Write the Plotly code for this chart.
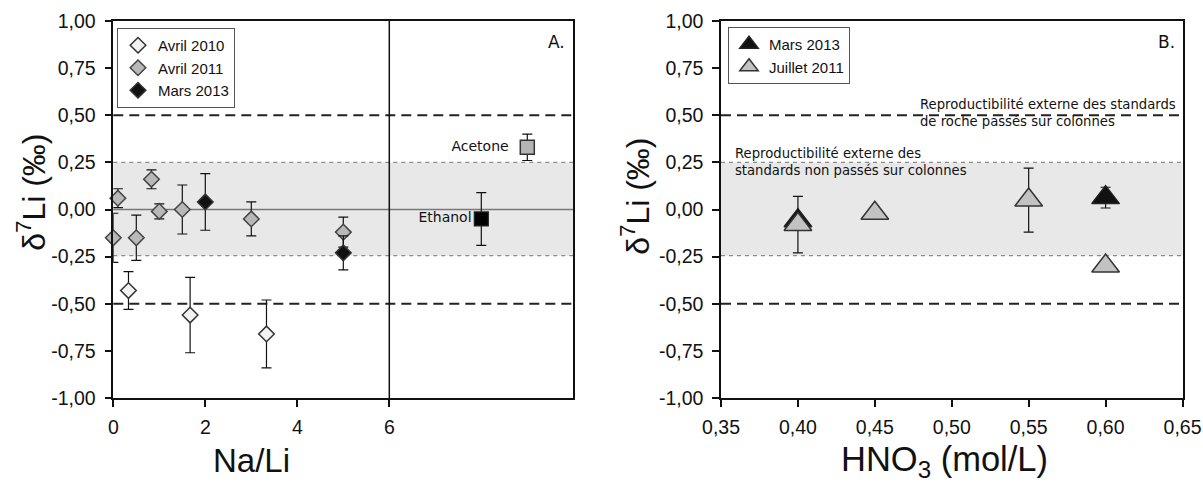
import plotly.graph_objects as go

# ---------------- Data: panel A (Na/Li) ----------------
avr2010_x = [0.33, 1.67, 3.33]
avr2010_y = [-0.43, -0.56, -0.66]
avr2010_e = [0.10, 0.20, 0.18]

avr2011_x = [0.0, 0.1, 0.5, 0.83, 1.0, 1.5, 3.0, 5.0]
avr2011_y = [-0.15, 0.06, -0.15, 0.16, -0.01, 0.0, -0.05, -0.12]
avr2011_e = [0.13, 0.05, 0.12, 0.05, 0.04, 0.13, 0.09, 0.08]

mars2013a_x = [2.0, 5.0]
mars2013a_y = [0.04, -0.23]
mars2013a_e = [0.15, 0.09]

ethanol_x, ethanol_y, ethanol_e = [8.0], [-0.05], [0.14]
acetone_x, acetone_y, acetone_e = [9.0], [0.33], [0.07]

# ---------------- Data: panel B (HNO3) ----------------
mars2013b_x = [0.40, 0.60]
mars2013b_y = [-0.06, 0.063]
mars2013b_e = [0.0, 0.055]

juil2011_x = [0.40, 0.45, 0.55, 0.60]
juil2011_y = [-0.08, -0.02, 0.05, -0.30]
juil2011_e = [0.15, 0.0, 0.17, 0.0]

y_ticks = [-1.0, -0.75, -0.5, -0.25, 0.0, 0.25, 0.5, 0.75, 1.0]
y_ticklabels = ["-1,00", "-0,75", "-0,50", "-0,25", "0,00", "0,25", "0,50", "0,75", "1,00"]
xa_ticks = [0, 2, 4, 6]
xa_ticklabels = ["0", "2", "4", "6"]
xb_ticks = [0.35, 0.40, 0.45, 0.50, 0.55, 0.60, 0.65]
xb_ticklabels = ["0,35", "0,40", "0,45", "0,50", "0,55", "0,60", "0,65"]

# page body margin is removed by post_script -> figure drawn at (0, 0)
W, H = 1203, 484
OFF = 0


def fx(px):
    return (px - OFF) / W


PLOT_TOP, PLOT_BOTTOM = 21, 398.3  # page pixels
PH = PLOT_BOTTOM - PLOT_TOP


def fy(py):
    return (PLOT_BOTTOM - py) / PH


TICKFONT = dict(family="Liberation Sans, Arial, sans-serif", size=19.5, color="#111")
LEGFONT = dict(family="Liberation Sans, Arial, sans-serif", size=15, color="#111")
LABFONT = dict(family="DejaVu Sans, sans-serif", size=14, color="#111")


def err(vals):
    return dict(type="data", array=vals, visible=True, color="#111", thickness=1.2, width=5)


fig = go.Figure()

# Panel A traces
fig.add_trace(go.Scatter(x=avr2010_x, y=avr2010_y, mode="markers", name="Avril 2010",
                         error_y=err(avr2010_e), cliponaxis=False,
                         marker=dict(symbol="diamond", size=12, color="#f2f2f2",
                                     line=dict(color="#333", width=1.5)),
                         xaxis="x", yaxis="y", legend="legend"))
fig.add_trace(go.Scatter(x=avr2011_x, y=avr2011_y, mode="markers", name="Avril 2011",
                         error_y=err(avr2011_e), cliponaxis=False,
                         marker=dict(symbol="diamond", size=12, color="#b8b8b8",
                                     line=dict(color="#444", width=1.5)),
                         xaxis="x", yaxis="y", legend="legend"))
fig.add_trace(go.Scatter(x=mars2013a_x, y=mars2013a_y, mode="markers", name="Mars 2013",
                         error_y=err(mars2013a_e), cliponaxis=False,
                         marker=dict(symbol="diamond", size=12, color="#111",
                                     line=dict(color="#333", width=1.5)),
                         xaxis="x", yaxis="y", legend="legend"))
fig.add_trace(go.Scatter(x=ethanol_x, y=ethanol_y, mode="markers+text", text=["Ethanol"],
                         textposition="middle left", textfont=LABFONT,
                         error_y=err(ethanol_e), showlegend=False,
                         marker=dict(symbol="square", size=14, color="#000",
                                     line=dict(color="#222", width=1.2)),
                         xaxis="x", yaxis="y"))
fig.add_trace(go.Scatter(x=acetone_x, y=acetone_y, mode="markers+text", text=["Acetone  "],
                         textposition="middle left", textfont=LABFONT,
                         error_y=err(acetone_e), showlegend=False,
                         marker=dict(symbol="square", size=14, color="#b5b5b5",
                                     line=dict(color="#333", width=1.5)),
                         xaxis="x", yaxis="y"))

# Panel B traces
fig.add_trace(go.Scatter(x=mars2013b_x, y=mars2013b_y, mode="markers", name="Mars 2013",
                         error_y=err(mars2013b_e), cliponaxis=False, legendrank=1,
                         marker=dict(symbol="triangle-up", size=24, color="#111",
                                     line=dict(color="#222", width=1.5)),
                         xaxis="x2", yaxis="y2", legend="legend2"))
fig.add_trace(go.Scatter(x=juil2011_x, y=juil2011_y, mode="markers", name="Juillet 2011",
                         error_y=err(juil2011_e), cliponaxis=False, legendrank=2,
                         marker=dict(symbol="triangle-up", size=24, color="#c2c2c2",
                                     line=dict(color="#333", width=1.5)),
                         xaxis="x2", yaxis="y2", legend="legend2"))

shapes = []
for xr, yr in (("x", "y"), ("x2", "y2")):
    shapes.append(dict(type="rect", xref=xr + " domain", yref=yr, x0=0, x1=1, y0=-0.245, y1=0.25,
                       fillcolor="#e8e8e8", line=dict(width=0), layer="below"))
    for yv in (0.25, -0.245):
        shapes.append(dict(type="line", xref=xr + " domain", yref=yr, x0=0, x1=1, y0=yv, y1=yv,
                           line=dict(color="#8a8a8a", width=1.2, dash="4px,4px"), layer="below"))
    for yv in (0.5, -0.5):
        shapes.append(dict(type="line", xref=xr + " domain", yref=yr, x0=0, x1=1, y0=yv, y1=yv,
                           line=dict(color="#222", width=1.8, dash="10px,6px"), layer="below"))
# zero line & separator in panel A
shapes.append(dict(type="line", xref="x domain", yref="y", x0=0, x1=1, y0=0, y1=0,
                   line=dict(color="#777", width=1.5), layer="below"))
shapes.append(dict(type="line", xref="x", yref="y domain", x0=6, x1=6, y0=0, y1=1,
                   line=dict(color="#111", width=1.5), layer="below"))

axis_common = dict(showgrid=False, zeroline=False, showline=True, linecolor="#111", linewidth=1.5,
                   mirror=True, ticks="outside", ticklen=7, tickwidth=1.5, tickcolor="#111",
                   tickfont=TICKFONT, automargin=False)
yaxis_common = dict(axis_common, ticklabelstandoff=5)
xaxis_common = dict(axis_common, ticklabelstandoff=4)

TITLEFONT = dict(family="Liberation Sans, Arial", size=33, color="#111")
YTFONT = dict(family="Liberation Sans, Arial", size=32, color="#111")

annotations = [
    dict(text="δ<sup>7</sup>Li (‰)", xref="paper", yref="paper", x=fx(31), y=fy(193),
         xanchor="center", yanchor="middle", textangle=-90, showarrow=False, font=YTFONT),
    dict(text="δ<sup>7</sup>Li (‰)", xref="paper", yref="paper", x=fx(635), y=fy(197),
         xanchor="center", yanchor="middle", textangle=-90, showarrow=False, font=YTFONT),
    dict(text="Na/Li", xref="x", yref="paper", x=3, y=fy(461), xanchor="center",
         yanchor="middle", showarrow=False, font=TITLEFONT),
    dict(text="HNO<sub>3</sub> (mol/L)", xref="x2", yref="paper", x=0.4955, y=fy(462),
         xanchor="center", yanchor="middle", showarrow=False,
         font=dict(TITLEFONT, size=34.5)),
    dict(text="A.", xref="x domain", yref="y domain", x=0.987, y=fy(42), xanchor="right",
         yanchor="middle", showarrow=False, font=dict(family="DejaVu Sans", size=17, color="#111")),
    dict(text="B.", xref="x2 domain", yref="y2 domain", x=0.987, y=fy(42), xanchor="right",
         yanchor="middle", showarrow=False, font=dict(family="DejaVu Sans", size=17, color="#111")),
    dict(text="Reproductibilité externe des standards<br>de roche passés sur colonnes",
         xref="x2", yref="y2", x=0.478, y=0.51, xanchor="left", yanchor="middle", align="left",
         showarrow=False, font=dict(family="DejaVu Sans", size=13.2, color="#111")),
    dict(text="Reproductibilité externe des<br>standards non passés sur colonnes",
         xref="x2", yref="y2", x=0.358, y=0.25, xanchor="left", yanchor="middle", align="left",
         showarrow=False, font=dict(family="DejaVu Sans", size=13.2, color="#111")),
]

fig.update_layout(
    width=W, height=H,
    margin=dict(l=0, r=0, t=PLOT_TOP - OFF, b=H - (PLOT_BOTTOM - OFF), autoexpand=False),
    paper_bgcolor="white", plot_bgcolor="white",
    xaxis=dict(domain=[fx(113.3), fx(573.3)], range=[0, 10], tickvals=xa_ticks,
               ticktext=xa_ticklabels, anchor="y", **xaxis_common),
    yaxis=dict(domain=[0, 1], range=[-1, 1], tickvals=y_ticks, ticktext=y_ticklabels,
               anchor="x", **yaxis_common),
    xaxis2=dict(domain=[fx(721), fx(1182.5)], range=[0.35, 0.65], tickvals=xb_ticks,
                ticktext=xb_ticklabels, anchor="y2", **xaxis_common),
    yaxis2=dict(domain=[0, 1], range=[-1, 1], tickvals=y_ticks, ticktext=y_ticklabels,
                anchor="x2", **yaxis_common),
    legend=dict(x=fx(117), y=fy(28), xanchor="left", yanchor="top", bgcolor="white",
                bordercolor="#555", borderwidth=1, font=LEGFONT, tracegroupgap=0),
    legend2=dict(x=fx(728), y=fy(27), xanchor="left", yanchor="top", bgcolor="white",
                 bordercolor="#555", borderwidth=1, font=LEGFONT, tracegroupgap=0),
    shapes=shapes,
    annotations=annotations,
    showlegend=True,
)

fig.write_html("out.html",
               config={"displayModeBar": False},
               post_script="document.body.style.margin='0px';document.body.style.overflow='hidden';")
